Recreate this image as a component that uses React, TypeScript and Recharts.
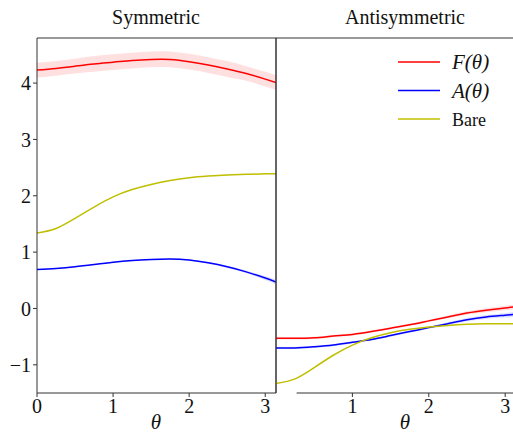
import React from 'react';
import { ComposedChart, Line, Area, XAxis, YAxis, ReferenceLine } from 'recharts';

const PI = Math.PI;
const thetas = [0, 0.25, 0.5, 0.75, 1.0, 1.25, 1.5, 1.75, 2.0, 2.25, 2.5, 2.75, 3.0, PI];

const symF = [4.23, 4.26, 4.30, 4.34, 4.37, 4.40, 4.42, 4.42, 4.38, 4.32, 4.25, 4.17, 4.07, 4.01];
const symFErr = [0.13, 0.13, 0.13, 0.14, 0.14, 0.14, 0.14, 0.14, 0.14, 0.14, 0.14, 0.13, 0.13, 0.13];
const symA = [0.69, 0.71, 0.74, 0.78, 0.82, 0.85, 0.87, 0.88, 0.86, 0.81, 0.74, 0.65, 0.54, 0.47];
const symAErr = [0.01, 0.01, 0.01, 0.01, 0.01, 0.01, 0.01, 0.01, 0.01, 0.015, 0.02, 0.025, 0.035, 0.045];
const symBare = [1.34, 1.42, 1.6, 1.8, 1.98, 2.11, 2.2, 2.27, 2.32, 2.35, 2.37, 2.38, 2.39, 2.39];

const antiF = [-0.53, -0.53, -0.52, -0.49, -0.46, -0.41, -0.35, -0.29, -0.22, -0.15, -0.08, -0.03, 0.01, 0.03];
const antiFErr = [0.02, 0.02, 0.02, 0.02, 0.02, 0.02, 0.02, 0.02, 0.02, 0.025, 0.03, 0.035, 0.04, 0.045];
const antiA = [-0.7, -0.7, -0.68, -0.65, -0.6, -0.55, -0.48, -0.41, -0.34, -0.27, -0.2, -0.15, -0.12, -0.1];
const antiAErr = [0.02, 0.02, 0.02, 0.02, 0.02, 0.02, 0.02, 0.02, 0.02, 0.025, 0.03, 0.035, 0.04, 0.045];
const antiBare = [-1.33, -1.25, -1.05, -0.83, -0.65, -0.52, -0.43, -0.37, -0.33, -0.3, -0.28, -0.27, -0.27, -0.27];

const yTicks = [-1, 0, 1, 2, 3, 4];
const leftXTicks = [0, 1, 2, 3];
const rightXTicks = [1, 2, 3];
const yDomain: [number, number] = [-1.5, 4.8];

const legendItems = [
  { label: 'F(θ)', color: '#ff0000', math: true },
  { label: 'A(θ)', color: '#0000ff', math: true },
  { label: 'Bare', color: '#bfbf00', math: false },
];

const RED = '#ff0000';
const BLUE = '#0000ff';
const OLIVE = '#bfbf00';
const FONT = "'Liberation Serif', 'DejaVu Serif', serif";
const AXIS = '#333333';

const symData = thetas.map((t, i) => ({
  t,
  F: symF[i],
  Fb: [symF[i] - symFErr[i], symF[i] + symFErr[i]],
  A: symA[i],
  Ab: [symA[i] - symAErr[i], symA[i] + symAErr[i]],
  B: symBare[i],
}));

const antiData = thetas.map((t, i) => ({
  t,
  F: antiF[i],
  Fb: [antiF[i] - antiFErr[i], antiF[i] + antiFErr[i]],
  A: antiA[i],
  Ab: [antiA[i] - antiAErr[i], antiA[i] + antiAErr[i]],
  B: antiBare[i],
}));

const tickStyle = { fontFamily: FONT, fontSize: 20, fill: '#111' };

export default function App() {
  const series = [
    <Area key="fb" dataKey="Fb" type="natural" stroke="none" fill={RED} fillOpacity={0.12} isAnimationActive={false} />,
    <Area key="ab" dataKey="Ab" type="natural" stroke="none" fill={BLUE} fillOpacity={0.12} isAnimationActive={false} />,
    <Line key="f" dataKey="F" type="natural" stroke={RED} strokeWidth={1.5} dot={false} isAnimationActive={false} />,
    <Line key="a" dataKey="A" type="natural" stroke={BLUE} strokeWidth={1.5} dot={false} isAnimationActive={false} />,
    <Line key="b" dataKey="B" type="natural" stroke={OLIVE} strokeWidth={1.5} dot={false} isAnimationActive={false} />,
  ];
  const textStyle: React.CSSProperties = { position: 'absolute', textAlign: 'center', color: '#111', fontFamily: FONT, lineHeight: '24px' };
  return (
    <div style={{ position: 'absolute', left: 0, top: 0, width: 513, height: 437, overflow: 'hidden', background: '#fff', fontFamily: FONT }}>
      <div style={{ position: 'absolute', left: 0, top: 0 }}>
        <ComposedChart width={290} height={437} data={symData} margin={{ top: 38, right: 14, bottom: 0, left: 0 }}>
          <XAxis dataKey="t" type="number" domain={[0, PI]} ticks={leftXTicks} allowDataOverflow
            tick={tickStyle} tickSize={4} stroke={AXIS} height={44} />
          <YAxis type="number" domain={yDomain} ticks={yTicks} allowDataOverflow width={37}
            tick={tickStyle} tickSize={4} stroke={AXIS}
            tickFormatter={(v: number) => (v < 0 ? '−' + Math.abs(v) : String(v))} />
          {series}
          <ReferenceLine y={4.8} stroke={AXIS} />
          <ReferenceLine x={PI} stroke={AXIS} />
        </ComposedChart>
      </div>
      <div style={{ position: 'absolute', left: 266, top: 0 }}>
        <ComposedChart width={260} height={437} data={antiData} margin={{ top: 38, right: 10, bottom: 0, left: 0 }}>
          <XAxis dataKey="t" type="number" domain={[0, PI]} ticks={rightXTicks} allowDataOverflow
            tick={tickStyle} tickSize={4} stroke={AXIS} axisLine={false} height={44} />
          <YAxis type="number" domain={yDomain} ticks={yTicks} allowDataOverflow width={10}
            tick={false} tickSize={4} stroke={AXIS} />
          {series}
          <ReferenceLine y={4.8} stroke={AXIS} />
          <ReferenceLine segment={[{ x: 0.27, y: -1.5 }, { x: PI, y: -1.5 }]} stroke={AXIS} />
        </ComposedChart>
      </div>
      <div style={{ ...textStyle, left: 56, width: 200, top: 5, fontSize: 20 }}>Symmetric</div>
      <div style={{ ...textStyle, left: 305, width: 200, top: 5, fontSize: 20 }}>Antisymmetric</div>
      <div style={{ ...textStyle, left: 146, width: 20, top: 410, fontSize: 21, fontStyle: 'italic' }}>θ</div>
      <div style={{ ...textStyle, left: 395, width: 20, top: 410, fontSize: 21, fontStyle: 'italic' }}>θ</div>
      <svg style={{ position: 'absolute', left: 0, top: 0 }} width={513} height={437}>
        {legendItems.map((it, i) => (
          <g key={it.label}>
            <line x1={398} x2={440} y1={62 + i * 28.5} y2={62 + i * 28.5} stroke={it.color} strokeWidth={1.5} />
            <text x={452} y={62 + i * 28.5 + 7} style={{ fontFamily: FONT }} fontSize={it.math ? 21 : 18}
              fontStyle={it.math ? 'italic' : 'normal'} fill="#111">{it.label}</text>
          </g>
        ))}
      </svg>
    </div>
  );
}
